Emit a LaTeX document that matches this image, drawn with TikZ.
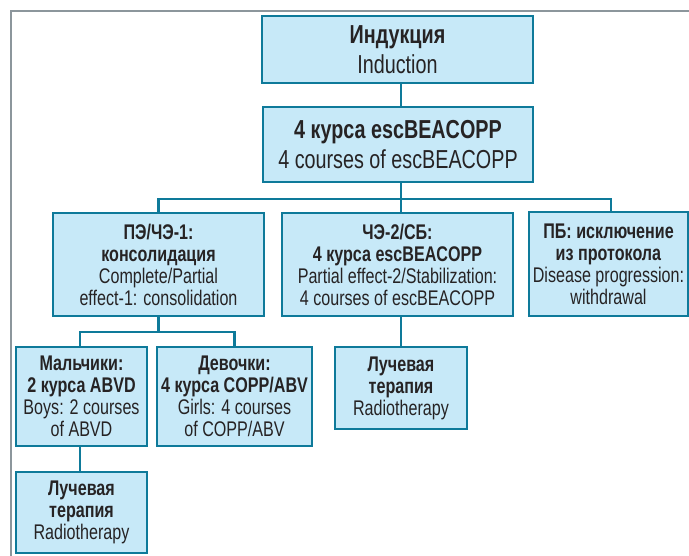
\documentclass[tikz,border=0pt]{standalone}
\usepackage{fontspec}
\setmainfont{Liberation Sans}[FakeStretch=0.76]
\definecolor{boxfill}{HTML}{C7E9F8}
\definecolor{boxline}{HTML}{0E7A9A}
\definecolor{txt}{HTML}{262324}
\definecolor{frame}{HTML}{8C969C}
\begin{document}
\begin{tikzpicture}[x=1pt,y=-1pt,
  box/.style={draw=boxline, fill=boxfill, line width=2.2pt, inner sep=0pt,
    align=center, text=txt, anchor=center},
  bigbox/.style={box, font=\fontsize{26}{29.5}\selectfont},
  smallbox/.style={box, font=\fontsize{21.2}{22}\selectfont},
  conn/.style={draw=boxline, line width=2.2pt}]
\useasboundingbox (0,0) rectangle (689,556);
\draw[frame, line width=2pt] (11,570) -- (11,11) -- (700,11);

\node[bigbox, minimum width=271pt, minimum height=67pt] (ind) at (397.5,49.5)
  {\textbf{Индукция}\\Induction};
\node[bigbox, minimum width=270pt, minimum height=75pt] (esc) at (398,144.5)
  {\textbf{4 курса escBEACOPP}\\4 courses of escBEACOPP};
\node[smallbox, minimum width=211pt, minimum height=103pt] (pe) at (158.5,264.5)
  {\textbf{ПЭ/ЧЭ-1:}\\\textbf{консолидация}\\Complete/Partial\\effect-1: consolidation};
\node[smallbox, minimum width=231pt, minimum height=103pt] (che) at (397.5,264.5)
  {\textbf{ЧЭ-2/СБ:}\\\textbf{4 курса escBEACOPP}\\Partial effect-2/Stabilization:\\4 courses of escBEACOPP};
\node[smallbox, minimum width=159pt, minimum height=104pt] (pb) at (608.5,264)
  {\textbf{ПБ: исключение}\\\textbf{из протокола}\\Disease progression:\\withdrawal};
\node[smallbox, minimum width=131pt, minimum height=99pt] (boys) at (81.5,396.5)
  {\textbf{Мальчики:}\\\textbf{2 курса ABVD}\\Boys: 2 courses\\of ABVD};
\node[smallbox, minimum width=155pt, minimum height=99pt] (girls) at (234.5,396.5)
  {\textbf{Девочки:}\\\textbf{4 курса COPP/ABV}\\Girls: 4 courses\\of COPP/ABV};
\node[smallbox, minimum width=131pt, minimum height=81pt] (rt1) at (81.5,512.5)
  {\textbf{Лучевая}\\\textbf{терапия}\\Radiotherapy};
\node[smallbox, minimum width=132pt, minimum height=82pt] (rt2) at (401,388)
  {\textbf{Лучевая}\\\textbf{терапия}\\Radiotherapy};

\coordinate (c1) at (401,199);
\coordinate (c2) at (158.5,332);
\draw[conn] (c1 |- ind.south) -- (c1 |- esc.north);
\draw[conn] (c1 |- esc.south) -- (c1);
\draw[conn] (c1) -- (c1 |- che.north);
\draw[conn] (pe.north) |- (c1) -| ([xshift=2.5pt]pb.north);
\draw[conn] (pe.south) -- (c2);
\draw[conn] ([xshift=-1.5pt]boys.north) |- (c2) -| (girls.north);
\draw[conn] ([xshift=-1.5pt]boys.south) -- ([xshift=-1.5pt]rt1.north);
\draw[conn] (rt2.north |- che.south) -- (rt2.north);
\end{tikzpicture}
\end{document}
